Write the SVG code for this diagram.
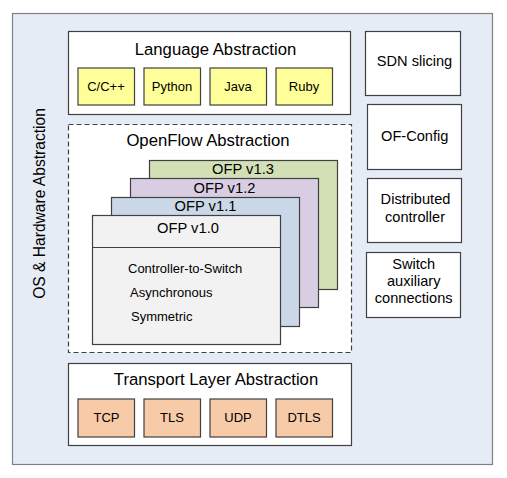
<svg xmlns="http://www.w3.org/2000/svg" width="507" height="478" viewBox="0 0 507 478">
<style>
text{font-family:"Liberation Sans",Arial,sans-serif;fill:#000}
.box{fill:#fff;stroke:#404040;stroke-width:1.2}
.lang{fill:#ffff99;stroke:#404040;stroke-width:1.2}
.tr{fill:#f8cba8;stroke:#404040;stroke-width:1.2}
.h{font-size:16.7px;text-anchor:middle}
.ofp{font-size:14.7px;text-anchor:middle}
.s{font-size:13px;text-anchor:middle}
.m{font-size:13px}
.r{font-size:14.6px;text-anchor:middle}
</style>
<rect width="507" height="478" fill="#fff"/>
<g id="os">
<rect x="12.5" y="13.5" width="480" height="451" fill="#e5ecf6" stroke="#808080" stroke-width="1.2"/>
<text transform="translate(45,203.5) rotate(-90)" x="0" y="0" font-size="15.6" text-anchor="middle">OS &amp; Hardware Abstraction</text>
</g>
<g id="language">
<rect class="box" x="68.5" y="31.5" width="282" height="83"/>
<text class="h" x="215.5" y="54.5">Language Abstraction</text>
<rect class="lang" x="78" y="68" width="56.5" height="37"/><text class="s" x="106" y="90.5">C/C++</text>
<rect class="lang" x="144" y="68" width="56.5" height="37"/><text class="s" x="172" y="90.5">Python</text>
<rect class="lang" x="210" y="68" width="56.5" height="37"/><text class="s" x="238" y="90.5">Java</text>
<rect class="lang" x="276" y="68" width="56.5" height="37"/><text class="s" x="304" y="90.5">Ruby</text>
</g>
<g id="openflow">
<rect x="68.5" y="124.5" width="283" height="228" fill="#fff" stroke="#404040" stroke-width="1.2" stroke-dasharray="5,3"/>
<text class="h" x="208" y="146">OpenFlow Abstraction</text>
<rect x="149.5" y="160.5" width="188" height="129" fill="#d3e0b6" stroke="#404040" stroke-width="1.2"/>
<text class="ofp" x="243" y="174">OFP v1.3</text>
<rect x="130.5" y="178.5" width="188" height="129" fill="#d8cde2" stroke="#404040" stroke-width="1.2"/>
<text class="ofp" x="224.5" y="192.5">OFP v1.2</text>
<rect x="111.5" y="197.5" width="188" height="129" fill="#cad8e8" stroke="#404040" stroke-width="1.2"/>
<text class="ofp" x="205.5" y="211">OFP v1.1</text>
<rect x="92.5" y="215.5" width="188" height="129" fill="#f2f2f2" stroke="#404040" stroke-width="1.2"/>
<line x1="92.5" y1="247.5" x2="280.5" y2="247.5" stroke="#404040" stroke-width="1.2"/>
<text class="ofp" x="188" y="233">OFP v1.0</text>
<text class="m" x="128" y="273">Controller-to-Switch</text>
<text class="m" x="130" y="297">Asynchronous</text>
<text class="m" x="131" y="321">Symmetric</text>
</g>
<g id="transport">
<rect class="box" x="68.5" y="363.5" width="283" height="82"/>
<text class="h" x="216" y="385">Transport Layer Abstraction</text>
<rect class="tr" x="78" y="399" width="56.5" height="38"/><text class="s" x="106.5" y="422">TCP</text>
<rect class="tr" x="144" y="399" width="56.5" height="38"/><text class="s" x="172" y="422">TLS</text>
<rect class="tr" x="210" y="399" width="56.5" height="38"/><text class="s" x="238" y="422">UDP</text>
<rect class="tr" x="276" y="399" width="56.5" height="38"/><text class="s" x="304" y="422">DTLS</text>
</g>
<g id="sdn-slicing">
<rect class="box" x="365.5" y="31.5" width="95" height="64"/>
<text class="r" x="414.5" y="66">SDN slicing</text>
</g>
<g id="of-config">
<rect class="box" x="367.5" y="104.5" width="94" height="65"/>
<text class="r" x="414.7" y="140.5">OF-Config</text>
</g>
<g id="distributed">
<rect class="box" x="367.5" y="178.5" width="94" height="64"/>
<text class="r" x="415.5" y="204.3">Distributed</text>
<text class="r" x="415" y="221.5">controller</text>
</g>
<g id="switch-aux">
<rect class="box" x="366.5" y="252.5" width="94" height="65"/>
<text class="r" x="413.7" y="269">Switch</text>
<text class="r" x="413.7" y="286">auxiliary</text>
<text class="r" x="413.7" y="302.7">connections</text>
</g>
<g id="connectors"></g>
</svg>
